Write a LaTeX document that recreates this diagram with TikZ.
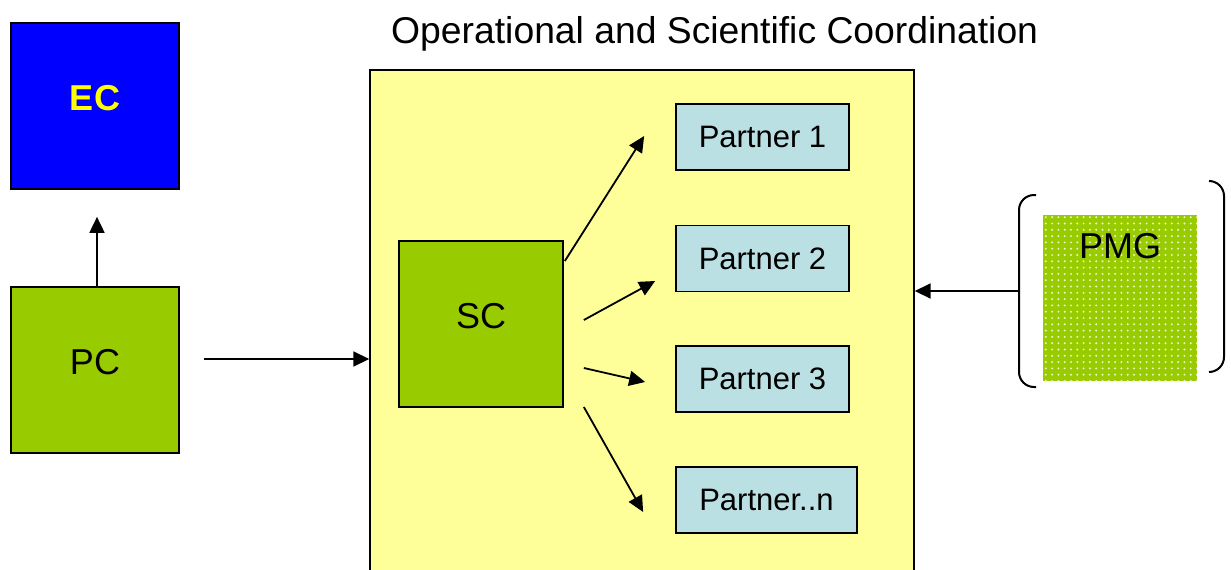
\documentclass[tikz,border=0pt]{standalone}
\usepackage{fontspec}
\setmainfont{Liberation Sans}
\usetikzlibrary{arrows.meta,calc,patterns.meta}

\definecolor{ecblue}{RGB}{0,0,255}
\definecolor{leaf}{RGB}{153,204,0}
\definecolor{paleyellow}{RGB}{255,255,153}
\definecolor{partnerblue}{RGB}{187,224,227}
\definecolor{ecyellow}{RGB}{255,255,0}

\tikzset{
  box/.style={draw=black, line width=1.7pt, rectangle, inner sep=0pt},
  bigbox/.style={box, minimum width=168pt, minimum height=166pt},
  partner/.style={box, fill=partnerblue, minimum height=66pt, font=\fontsize{31}{36}\selectfont},
  boxlabel/.style={font=\fontsize{36}{42}\selectfont, yshift=8pt},
  arr/.style={line width=1.8pt, -{Triangle[length=16pt,width=15pt]}},
  bracket/.style={line width=2pt, rounded corners=15pt},
}

\begin{document}
\begin{tikzpicture}[x=1pt,y=-1pt]
  \useasboundingbox (0,0) rectangle (1231,570);
  \clip (0,0) rectangle (1231,570);
  \fill[white] (0,0) rectangle (1231,570);

  % left column: EC above PC
  \node[bigbox, fill=ecblue,
        label={[boxlabel, text=ecyellow, font=\fontsize{36}{42}\selectfont\bfseries]center:EC}]
        (ec) at (95,106) {};
  \node[bigbox, fill=leaf, label={[boxlabel]center:PC}] (pc) at (95,370) {};

  % coordination area, running past the lower edge
  \node[box, line width=1.4pt, fill=paleyellow, minimum width=544pt, minimum height=530pt]
        (ocb) at (642,335) {};
  \node[anchor=base west, font=\fontsize{37.3}{44}\selectfont, inner sep=0pt]
        (title) at (391,43) {Operational and Scientific Coordination};

  \node[box, fill=leaf, minimum width=164pt, minimum height=166pt,
        label={[boxlabel]center:SC}] (sc) at (481,324) {};

  \node[partner, minimum width=173pt] (p1) at (762.5,137) {Partner 1};
  \node[partner, minimum width=173pt] (p2) at (762.5,258.5) {Partner 2};
  \node[partner, minimum width=173pt] (p3) at (762.5,379) {Partner 3};
  \node[partner, minimum width=181pt] (pn) at (766.5,500) {Partner..n};

  % PMG with its dotted fill, between brackets
  \node[inner sep=0pt, fill=leaf, minimum width=154pt, minimum height=166pt] (pmg) at (1120,298) {};
  \path[pattern={Dots[radius=1.1pt,distance=6.3pt]}, pattern color=white!80!leaf]
        (pmg.south west) rectangle (pmg.north east);
  \node[font=\fontsize{36}{42}\selectfont, inner sep=0pt] (pmgtext) at (1120,246) {PMG};
  \draw[bracket] (1036,195) -- (1019,195) -- (1019,387) -- (1036,387);
  \draw[bracket] (1209,181) -- (1224,181) -- (1224,372) -- (1209,372);
  \coordinate (brl) at (1019,291);

  % connectors
  \draw[arr, shorten >=27pt] ([xshift=2pt]pc.north) -- ([xshift=2pt]ec.south);
  \coordinate (pcout) at ($(pc.east)+(24,-11)$);
  \draw[arr] (pcout) -- (pcout -| ocb.west);

  \coordinate (s1) at ($(sc.east)+(1,-63)$);
  \coordinate (s2) at ($(sc.east)+(20,-4)$);
  \coordinate (s3) at ($(sc.east)+(20,44)$);
  \coordinate (s4) at ($(sc.east)+(20,83)$);
  \coordinate (t1) at ($(p1.west)+(-31,-1)$);
  \coordinate (t2) at ($(p2.west)+(-20,22.5)$);
  \coordinate (t3) at ($(p3.west)+(-30,3)$);
  \coordinate (t4) at ($(pn.west)+(-32,12)$);
  \draw[arr] (s1) -- (t1);
  \draw[arr] (s2) -- (t2);
  \draw[arr] (s3) -- (t3);
  \draw[arr] (s4) -- (t4);

  \draw[arr] (brl) -- (brl -| ocb.east);
\end{tikzpicture}
\end{document}
